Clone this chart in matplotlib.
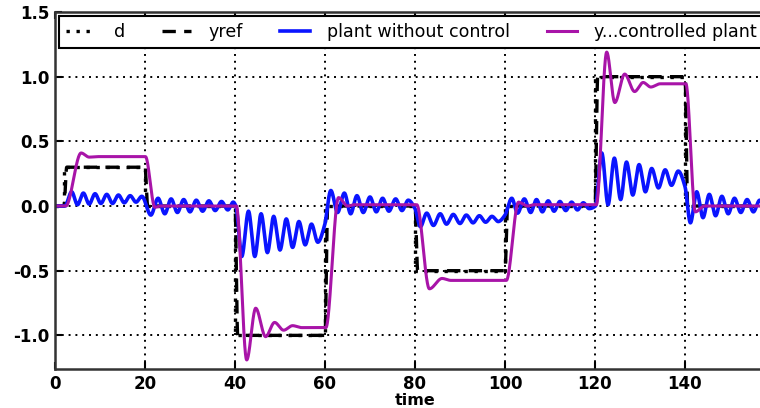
import numpy as np
import matplotlib
matplotlib.use("Agg")
import matplotlib.pyplot as plt

# Reference steps: switching times and levels (level before the first step is 0)
ref_times = [2, 20, 40, 60, 80, 100, 120, 140]
ref_levels = [0.3, 0.0, -1.0, 0.0, -0.5, 0.0, 1.0, 0.0]

# Plant without control: turning points (time, value)
plant_t = [0, 2.2, 3.7, 5.0, 6.3, 7.6, 8.9, 10.2, 11.5, 12.8, 14.1, 15.4, 16.7, 18.0, 19.3,
           21.3, 22.9, 24.4, 25.8, 27.2, 28.6, 30.0, 31.4, 32.8, 34.2, 35.6, 37.0, 38.4, 39.6, 40.2,
           41.5, 43.0, 44.4, 45.8, 47.2, 48.6, 50.0, 51.4, 52.8, 54.2, 55.6, 57.0, 58.4, 59.9,
           61.3, 62.8, 64.3, 65.7, 67.1, 68.5, 70.0, 71.4, 72.8, 74.2, 75.7, 77.1, 78.5, 80.0,
           81.2, 82.6, 84.1, 85.6, 87.0, 88.5, 90.0, 91.4, 92.9, 94.3, 95.7, 97.1, 98.5, 100.0,
           101.5, 102.8, 104.3, 105.7, 107.0, 108.3, 109.6, 110.9, 112.2, 113.5, 114.8, 116.1, 117.4, 118.7, 120.1,
           121.5, 122.9, 124.3, 125.7, 127.0, 128.4, 129.8, 131.2, 132.6, 134.1, 135.6, 137.0, 138.5, 140.0,
           141.2, 142.6, 144.0, 145.4, 146.8, 148.2, 149.6, 151.0, 152.4, 153.8, 155.2, 156.6, 158.0, 159.4]
plant_v = [0, 0, 0.11, 0.01, 0.10, 0.015, 0.095, 0.02, 0.09, 0.02, 0.085, 0.025, 0.08, 0.03, 0.075,
           -0.07, 0.06, -0.06, 0.055, -0.05, 0.05, -0.045, 0.045, -0.04, 0.04, -0.035, 0.035, -0.03, 0.03, 0.0,
           -0.39, -0.04, -0.39, -0.06, -0.36, -0.08, -0.34, -0.10, -0.32, -0.12, -0.30, -0.14, -0.28, -0.15,
           0.12, -0.05, 0.10, -0.06, 0.08, -0.05, 0.07, -0.045, 0.06, -0.04, 0.055, -0.035, 0.045, -0.02,
           -0.16, -0.055, -0.15, -0.06, -0.14, -0.065, -0.135, -0.07, -0.13, -0.075, -0.125, -0.08, -0.12, -0.07,
           0.06, -0.055, 0.055, -0.05, 0.05, -0.045, 0.04, -0.04, 0.035, -0.035, 0.03, -0.03, 0.025, -0.02, 0.0,
           0.41, 0.01, 0.37, 0.05, 0.34, 0.085, 0.32, 0.11, 0.29, 0.14, 0.28, 0.16, 0.27, 0.15,
           -0.13, 0.11, -0.09, 0.09, -0.075, 0.075, -0.06, 0.06, -0.05, 0.05, -0.045, 0.045, -0.04, 0.04]

# Controlled plant: turning points (time, value)
ctrl_t = [0, 2.4, 5.8, 7.6, 9.5, 20.1, 22.2, 23.5,
          40.3, 42.6, 44.6, 46.8, 48.8, 50.8, 52.8, 54.8,
          60.2, 63.0, 65.0, 66.5, 80.4, 83.2, 86.0, 88.0,
          100.3, 103.0, 105.0, 106.5,
          120.3, 122.6, 124.4, 126.6, 128.8, 130.7, 132.4, 134.5,
          140.2, 142.3, 144.3, 160]
ctrl_v = [0, 0, 0.41, 0.378, 0.382, 0.382, -0.01, 0.0,
          0.0, -1.19, -0.79, -1.01, -0.90, -0.96, -0.925, -0.94,
          -0.94, 0.065, 0.0, 0.01, 0.01, -0.64, -0.56, -0.575,
          -0.575, 0.03, 0.0, 0.01,
          0.01, 1.19, 0.80, 1.02, 0.885, 0.955, 0.92, 0.945,
          0.945, -0.045, 0.0, 0.0]

x_ticks = [0, 20, 40, 60, 80, 100, 120, 140]
y_ticks = [-1.0, -0.5, 0.0, 0.5, 1.0, 1.5]


def smooth_through(x, y, xn):
    """Monotone cubic (PCHIP) curve through the given points."""
    x = np.asarray(x, float)
    y = np.asarray(y, float)
    h = np.diff(x)
    delta = np.diff(y) / h
    n = len(x)
    d = np.zeros(n)
    for k in range(1, n - 1):
        if delta[k - 1] * delta[k] > 0:
            w1 = 2 * h[k] + h[k - 1]
            w2 = h[k] + 2 * h[k - 1]
            d[k] = (w1 + w2) / (w1 / delta[k - 1] + w2 / delta[k])
    idx = np.clip(np.searchsorted(x, xn, side="right") - 1, 0, n - 2)
    t = (xn - x[idx]) / h[idx]
    h00 = 2 * t**3 - 3 * t**2 + 1
    h10 = t**3 - 2 * t**2 + t
    h01 = -2 * t**3 + 3 * t**2
    h11 = t**3 - t**2
    return (h00 * y[idx] + h10 * h[idx] * d[idx]
            + h01 * y[idx + 1] + h11 * h[idx] * d[idx + 1])


t = np.linspace(0, 160, 4001)

# d: sharp steps
d_t = [0] + ref_times + [160]
d_v = [0.0] + ref_levels + [ref_levels[-1]]

# yref: the same steps with a short rounded transition
yr_t, yr_v = [0.0], [0.0]
prev = 0.0
for ts, lv in zip(ref_times, ref_levels):
    yr_t += [ts, ts + 0.6]
    yr_v += [prev, lv]
    prev = lv
yr_t.append(160.0)
yr_v.append(prev)

fig = plt.figure(figsize=(7.6, 4.08), dpi=100)
ax = fig.add_axes([55 / 760, 39 / 408, 720 / 760, 357 / 408])

ax.plot(d_t, d_v, drawstyle="steps-post", color="black", lw=2.4,
        linestyle=(0, (1, 2)), label="d")
ax.plot(t, smooth_through(yr_t, yr_v, t), color="black", lw=2.4,
        linestyle=(0, (4, 2.5)), label="yref")
ax.plot(t, smooth_through(plant_t, plant_v, t), color="#0a14ff", lw=2.6,
        label="plant without control")
ax.plot(t, smooth_through(ctrl_t, ctrl_v, t), color="#a814a8", lw=2.2,
        label="y...controlled plant")

ax.set_xlim(0, 160)
ax.set_ylim(-1.26, 1.5)
ax.set_xticks(x_ticks)
ax.set_yticks(y_ticks)
ax.set_xticklabels([str(v) for v in x_ticks], fontweight="bold", fontsize=12)
ax.set_yticklabels(["%.1f" % v for v in y_ticks], fontweight="bold", fontsize=12)
ax.set_xlabel("time", fontweight="bold", fontsize=11.5, labelpad=0)

ax.grid(True, color="black", linestyle=(0, (1, 2.5)), lw=1.4)
ax.tick_params(direction="in", top=True, right=True, length=5, width=1.5, pad=4)
for s in ax.spines.values():
    s.set_linewidth(1.8)
    s.set_color("#333333")

leg = ax.legend(loc="upper left", ncol=4, fontsize=12.6, frameon=True, fancybox=False,
                borderaxespad=0.25, handlelength=1.7, columnspacing=2.1,
                handletextpad=1.0)
leg.get_frame().set_edgecolor("black")
leg.get_frame().set_linewidth(1.5)
leg.get_frame().set_alpha(1.0)

fig.savefig("out.png", dpi=100)
